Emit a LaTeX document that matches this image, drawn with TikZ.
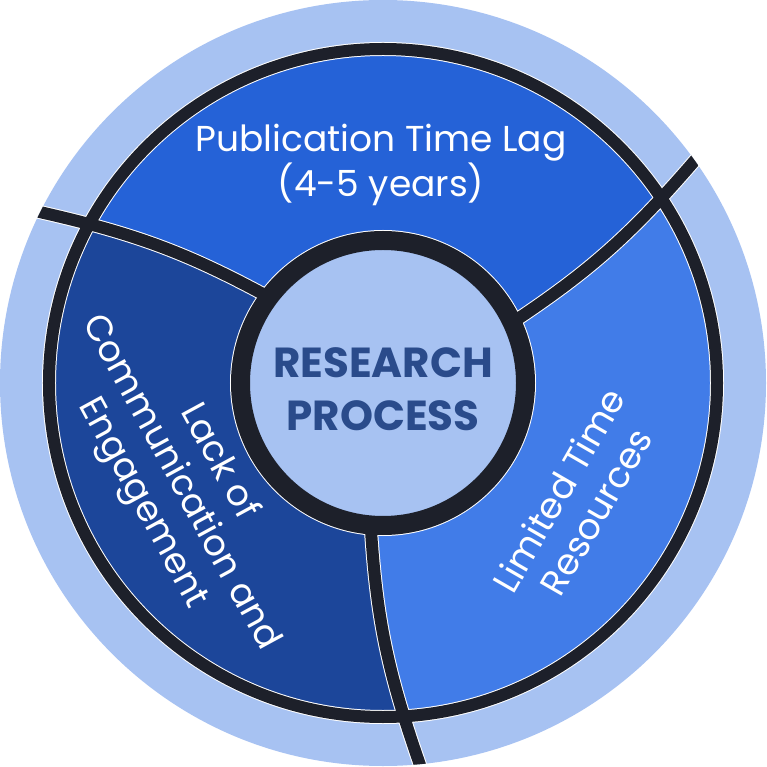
\documentclass[tikz,border=0pt]{standalone}
\usepackage{fontspec}
\setmainfont{Poppins}
\usetikzlibrary{positioning}

\definecolor{bandblue}{HTML}{A7C2F2}
\definecolor{topblue}{HTML}{2562D7}
\definecolor{leftblue}{HTML}{1C469A}
\definecolor{rightblue}{HTML}{417CE8}
\definecolor{inkdark}{HTML}{1D202A}
\definecolor{hubink}{HTML}{2A4B8B}

\begin{document}
\begin{tikzpicture}[x=1pt,y=1pt,
    divider/.style={draw=inkdark, line width=12pt},
    halo/.style={draw=white, line width=14pt},
    seglabel/.style={text=white, align=center, font=\fontsize{36}{43}\selectfont},
    hublabel/.style={text=hubink, align=center, font=\bfseries\fontsize{42}{53}\selectfont}]
  \useasboundingbox (-383,-384) rectangle (383,383);
  %%%%% THE BAND
  \fill[bandblue] (0,0) circle (383);
  %%%%% THE SECTORS
  \begin{scope}
    \clip (0,0) circle (334);
    \foreach \a/\b/\col in {25/143/topblue,143/265/leftblue,265/385/rightblue}{
      \pgfmathsetmacro{\ea}{\a+10.5}
      \pgfmathsetmacro{\eb}{\b+10.5}
      \fill[\col] (0,0) -- (\a:142) to[bend right=8] (\ea:383)
        arc[start angle=\ea, end angle=\eb, radius=383] to[bend left=8] (\b:142) -- cycle;
    }
  \end{scope}
  % roots and tips of the dividers
  \foreach \a [count=\i] in {25,143,265}{
    \pgfmathsetmacro{\ea}{\a+10.5}
    \coordinate (root\i) at (\a:142);
    \coordinate (tip\i) at (\ea:383);
  }
  %%%%% THE DIVIDERS
  \begin{scope}
    \clip (0,0) circle (383);
    \draw[halo] (0,0) circle (334);
    \draw[halo, line width=21pt] (0,0) circle (142.5);
    \foreach \i in {1,2,3}
      \draw[halo, shorten >=-12pt] (root\i) to[bend right=8] (tip\i);
    \draw[divider] (0,0) circle (334);
    \foreach \i in {1,2,3}
      \draw[divider, shorten >=-12pt] (root\i) to[bend right=8] (tip\i);
  \end{scope}
  %%%%% THE HUB
  \node[circle, draw=inkdark, line width=19pt, fill=bandblue,
    minimum size=285pt, inner sep=0pt] (hub) at (0,0) {};
  \node[hublabel] (hubtext) at (0,-6) {RESEARCH\\PROCESS};
  %%%%% THE LABELS
  \node[seglabel] (lag) at (-2,218) {Publication Time Lag\\(4-5 years)};
  \node[seglabel, rotate=-61.5] (lack) at (-203,-100) {Lack of\\Communication and\\Engagement};
  \node[seglabel, rotate=60] (limited) at (194,-118) {Limited Time\\Resources};
\end{tikzpicture}
\end{document}
